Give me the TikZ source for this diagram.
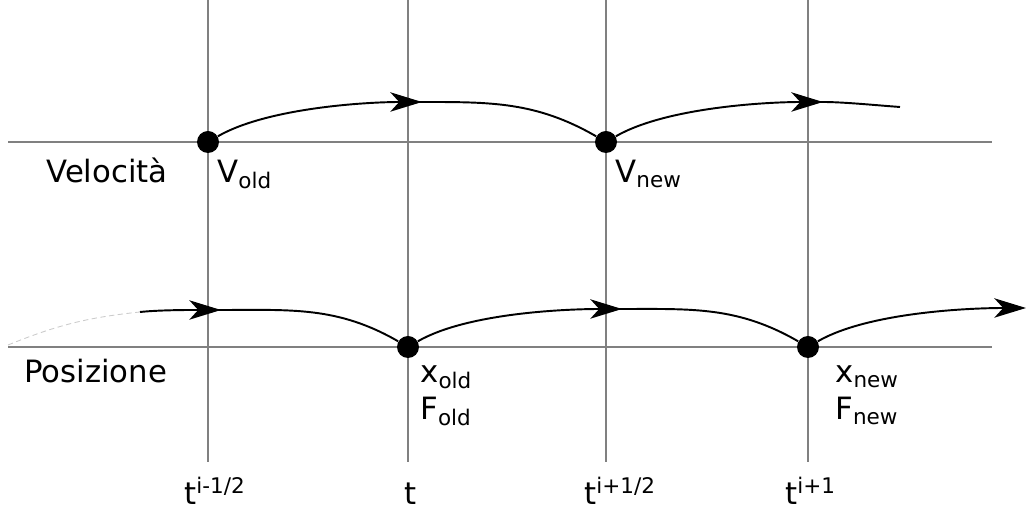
\documentclass[tikz,border=0pt]{standalone}
\usepackage{fontspec}
\setmainfont{DejaVu Sans}
\usepackage{tikz}
\usetikzlibrary{positioning,arrows.meta}
\tikzset{
	gridline/.style = {
		draw=black!50, line width=0.8pt
	}
}
\tikzset{
	sample/.style = {
		circle, fill=black, inner sep=0pt, minimum size=0.44cm
	}
}
\tikzset{
	glide/.style = {
		line width=1.1pt, looseness=0.7
	}
}
\tikzset{
	leap/.style = {
		glide, -{Stealth[length=18pt, width=11pt, inset=5pt]}
	}
}
\tikzset{
	fadein/.style = {
		black!20, densely dashed, line width=0.5pt
	}
}
\tikzset{
	quantity/.style = {
		anchor=base west, inner sep=0pt, font=\fontsize{17.5}{21}\selectfont
	}
}

\begin{document}
\begin{tikzpicture}[x=0.02cm, y=0.02cm]
	\useasboundingbox (0,0) rectangle (1036,510);
	% time grid
	\draw[gridline] (208,48) -- (208,510);
	\draw[gridline] (408,48) -- (408,510);
	\draw[gridline] (606,48) -- (606,510);
	\draw[gridline] (808,48) -- (808,510);
	\draw[gridline] (8,368) -- (992,368);
	\draw[gridline] (8,163) -- (992,163);

	% samples
	\node[sample](Vold) at (208,368) {};
	\node[sample](Vnew) at (606,368) {};
	\node[sample](xold) at (408,163) {};
	\node[sample](xnew) at (808,163) {};

	\coordinate (vhalfA) at (422,408);
	\coordinate (vhalfB) at (823,408);
	\coordinate (vtail) at (900,403);
	\coordinate (xstart) at (8,165);
	\coordinate (xfade) at (140,198);
	\coordinate (xhalfA) at (221,200);
	\coordinate (xhalfB) at (622,201);
	\coordinate (xhalfC) at (1026,202);

	% velocity leaps (the glide restarts inside the arrow head)
	\draw[leap] (Vold) to[out=30, in=180] (vhalfA);
	\draw[glide] ([xshift=-6pt]vhalfA) -- (vhalfA) to[out=0, in=150, looseness=1] (Vnew);
	\draw[leap] (Vnew) to[out=30, in=180] (vhalfB);
	\draw[glide] ([xshift=-6pt]vhalfB) -- (vhalfB) to[out=0, in=176] (vtail);

	% position leaps
	\draw[fadein] (xstart) to[out=22, in=186] (xfade);
	\draw[leap] (xfade) to[out=6, in=180] (xhalfA);
	\draw[glide] ([xshift=-6pt]xhalfA) -- (xhalfA) to[out=0, in=150, looseness=1] (xold);
	\draw[leap] (xold) to[out=30, in=180] (xhalfB);
	\draw[glide] ([xshift=-6pt]xhalfB) -- (xhalfB) to[out=0, in=150, looseness=1] (xnew);
	\draw[leap] (xnew) to[out=30, in=180] (xhalfC);

	% labels
	\node[quantity](Velocita) at (46,327) {Velocità};
	\node[quantity](Posizione) at (24,127) {Posizione};
	\node[quantity](VoldText) at (217,327) {V\textsubscript{old}};
	\node[quantity](VnewText) at (615,327) {V\textsubscript{new}};
	\node[quantity](xoldText) at (420,127) {x\textsubscript{old}};
	\node[quantity](FoldText) at (420,90) {F\textsubscript{old}};
	\node[quantity](xnewText) at (835,127) {x\textsubscript{new}};
	\node[quantity](FnewText) at (835,90) {F\textsubscript{new}};

	\node[quantity](tmhalf) at (184,5) {t\textsuperscript{i-1/2}};
	\node[quantity](tnow) at (404,5) {t};
	\node[quantity](tphalf) at (584,5) {t\textsuperscript{i+1/2}};
	\node[quantity](tnext) at (785,5) {t\textsuperscript{i+1}};
\end{tikzpicture}
\end{document}
